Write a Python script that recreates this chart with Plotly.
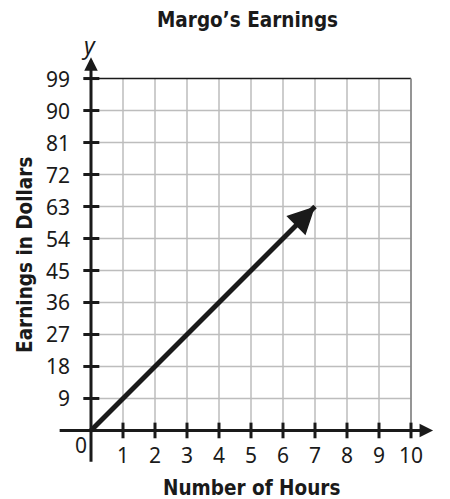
import plotly.graph_objects as go

# ---- data ----
title = "Margo’s Earnings"
x_title = "Number of Hours"
y_title = "Earnings in Dollars"
x_ticks = [1, 2, 3, 4, 5, 6, 7, 8, 9, 10]
y_ticks = [9, 18, 27, 36, 45, 54, 63, 72, 81, 90, 99]
hours = [0, 7]
earnings = [0, 63]

X_MAX = 10
Y_MAX = 99
INK = "#1a1a1a"

fig = go.Figure()

# grid lines
shapes = []
for xv in x_ticks[:-1]:
    shapes.append(dict(type="line", x0=xv, x1=xv, y0=0, y1=Y_MAX, xref="x", yref="y",
                       line=dict(color="#bdbdbd", width=1.5), layer="below"))
for yv in y_ticks[:-1]:
    shapes.append(dict(type="line", x0=0, x1=X_MAX, y0=yv, y1=yv, xref="x", yref="y",
                       line=dict(color="#bdbdbd", width=1.5), layer="below"))
# top and right border
shapes.append(dict(type="line", x0=0, x1=X_MAX, y0=Y_MAX, y1=Y_MAX, xref="x", yref="y",
                   line=dict(color=INK, width=1.5)))
shapes.append(dict(type="line", x0=X_MAX, x1=X_MAX, y0=0, y1=Y_MAX, xref="x", yref="y",
                   line=dict(color="#8a8a8a", width=1.8)))
# axes
shapes.append(dict(type="line", x0=-0.98, x1=10.5, y0=0, y1=0, xref="x", yref="y",
                   line=dict(color=INK, width=3)))
shapes.append(dict(type="line", x0=0, x1=0, y0=-8.8, y1=103.5, xref="x", yref="y",
                   line=dict(color=INK, width=3)))
# ticks
for xv in x_ticks:
    shapes.append(dict(type="line", x0=xv, x1=xv, y0=-2.2, y1=2.2, xref="x", yref="y",
                       line=dict(color=INK, width=3)))
for yv in y_ticks:
    shapes.append(dict(type="line", x0=-0.24, x1=0.26, y0=yv, y1=yv, xref="x", yref="y",
                       line=dict(color=INK, width=3)))

fig.add_trace(go.Scatter(x=hours, y=earnings, mode="lines",
                         line=dict(color=INK, width=5), hoverinfo="skip"))

annotations = []
# line arrowhead
annotations.append(dict(x=hours[-1], y=earnings[-1], ax=hours[-1] - 0.4, ay=earnings[-1] - 3.6,
                        xref="x", yref="y", axref="x", ayref="y", text="", showarrow=True,
                        arrowhead=2, arrowsize=1.2, arrowwidth=4.5, arrowcolor=INK))
# axis arrowheads
annotations.append(dict(x=10.69, y=0, ax=10.4, ay=0, xref="x", yref="y", axref="x", ayref="y",
                        text="", showarrow=True, arrowhead=2, arrowsize=0.9, arrowwidth=3,
                        arrowcolor=INK))
annotations.append(dict(x=0, y=105, ax=0, ay=102, xref="x", yref="y", axref="x", ayref="y",
                        text="", showarrow=True, arrowhead=2, arrowsize=0.9, arrowwidth=3,
                        arrowcolor=INK))
# tick labels
font_num = dict(family="Noto Sans", size=21, color=INK)
for xv in x_ticks:
    annotations.append(dict(x=xv, y=-7.0, xref="x", yref="y", text=str(xv), showarrow=False,
                            font=font_num, xanchor="center", yanchor="middle"))
for yv in y_ticks:
    annotations.append(dict(x=-0.6, y=yv, xref="x", yref="y", text=str(yv), showarrow=False,
                            font=font_num, xanchor="right", yanchor="middle"))
annotations.append(dict(x=-0.3, y=-4.0, xref="x", yref="y", text="0", showarrow=False,
                        font=font_num, xanchor="center", yanchor="middle"))
# axis letter labels
font_letter = dict(family="Noto Sans", size=23, color=INK)
annotations.append(dict(x=11.07, y=-0.3, xref="x", yref="y", text="<i>x</i>", showarrow=False,
                        font=font_letter, xanchor="center", yanchor="middle"))
annotations.append(dict(x=-0.07, y=108.4, xref="x", yref="y", text="<i>y</i>", showarrow=False,
                        font=font_letter, xanchor="center", yanchor="middle"))
# titles
font_bold = dict(family="DejaVu Sans Condensed", size=20.5, color=INK, weight="bold")
annotations.append(dict(x=5, y=-16.1, xref="x", yref="y", text=f"<b>{x_title}</b>", showarrow=False,
                        font=font_bold, xanchor="center", yanchor="middle"))
annotations.append(dict(x=-2.08, y=49.5, xref="x", yref="y", text=f"<b>{y_title}</b>", showarrow=False,
                        font=font_bold, textangle=-90, xanchor="center", yanchor="middle"))
annotations.append(dict(x=4.9, y=115.4, xref="x", yref="y", text=f"<b>{title}</b>", showarrow=False,
                        font=font_bold, xanchor="center", yanchor="middle"))

# page body has an 8px margin; the figure is sized to fit the window after it
OFF = 8
FIG_W, FIG_H = 450 - OFF, 499 - OFF
px_x = 32.03
px_y = 3.5596
x_lo, x_hi = -2.5, 11.0
y_lo, y_hi = -19.0, 118.0
l = (90.7 - OFF) + x_lo * px_x
r = FIG_W - (l + (x_hi - x_lo) * px_x)
t = (78.3 - OFF) - (y_hi - Y_MAX) * px_y
b = FIG_H - ((430.7 - OFF) - y_lo * px_y)

fig.update_layout(
    width=FIG_W, height=FIG_H,
    margin=dict(l=max(l, 0), r=max(r, 0), t=max(t, 0), b=max(b, 0), pad=0),
    paper_bgcolor="white", plot_bgcolor="white",
    showlegend=False,
    xaxis=dict(range=[x_lo, x_hi], visible=False, fixedrange=True),
    yaxis=dict(range=[y_lo, y_hi], visible=False, fixedrange=True),
    shapes=shapes, annotations=annotations,
)

fig.write_html("out.html", config={"displayModeBar": False})
